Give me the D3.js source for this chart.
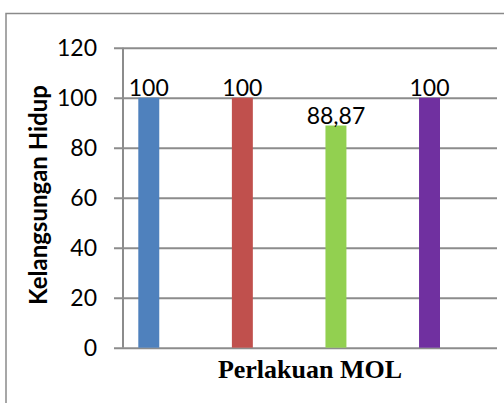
<!DOCTYPE html>
<html>
<head>
<meta charset="utf-8">
<script src="https://cdn.jsdelivr.net/npm/d3@7/dist/d3.min.js"></script>
<style>
  html, body { margin: 0; padding: 0; background: #fff; }
  svg { display: block; }
</style>
</head>
<body>
<script>
// Survival rate per MOL treatment
const series = ["P1", "P2", "P3", "P4"];
const values = [100, 100, 88.87, 100];
const valueLabels = ["100", "100", "88,87", "100"];
const colors = ["#4F81BD", "#C0504D", "#92D050", "#7030A0"];
const yTicks = [0, 20, 40, 60, 80, 100, 120];
const yTitle = "Kelangsungan Hidup";
const xTitle = "Perlakuan MOL";

const W = 504, H = 403;
const svg = d3.select("body").append("svg").attr("width", W).attr("height", H);

// chart frame (top and left edges)
svg.append("path")
  .attr("d", `M6,${H} V13.5 H${W}`)
  .attr("fill", "none").attr("stroke", "#8a8a8a").attr("stroke-width", 1.5);

const plot = { left: 123, right: 497, top: 47.7, bottom: 347.7 };

const y = d3.scaleLinear().domain([0, 120]).range([plot.bottom, plot.top]);
const x = d3.scaleBand().domain(series).range([138.3, 440]).paddingInner(0.776).paddingOuter(0);

// gridlines with tick marks
const yAxis = d3.axisLeft(y).tickValues(yTicks).tickSize(-(plot.right - 114)).tickPadding(17).tickFormat(d3.format("d"));
const ga = svg.append("g").attr("transform", `translate(114,0)`).call(yAxis);
ga.select(".domain").remove();
ga.selectAll(".tick line").attr("stroke", "#8c8c8c").attr("stroke-width", 2);
ga.selectAll(".tick text")
  .attr("font-family", "Lato, 'Open Sans', sans-serif")
  .attr("font-size", 23).attr("fill", "#000");

// vertical axis line
svg.append("line")
  .attr("x1", plot.left).attr("x2", plot.left)
  .attr("y1", y(120)).attr("y2", y(0))
  .attr("stroke", "#8c8c8c").attr("stroke-width", 2);

// bars
svg.selectAll("rect.bar").data(values).join("rect")
  .attr("class", "bar")
  .attr("x", (d, i) => x(series[i]))
  .attr("width", x.bandwidth())
  .attr("y", d => y(d))
  .attr("height", d => y(0) - y(d))
  .attr("fill", (d, i) => colors[i]);

// value labels
svg.selectAll("text.val").data(values).join("text")
  .attr("class", "val")
  .attr("x", (d, i) => x(series[i]) + x.bandwidth() / 2)
  .attr("y", d => y(d) - 2)
  .attr("text-anchor", "middle")
  .attr("font-family", "Lato, 'Open Sans', sans-serif")
  .attr("font-size", 23)
  .attr("fill", "#000")
  .text((d, i) => valueLabels[i]);

// axis titles
svg.append("text")
  .attr("x", (plot.left + plot.right) / 2)
  .attr("y", 378)
  .attr("text-anchor", "middle")
  .attr("font-family", "'Liberation Serif', 'Times New Roman', serif")
  .attr("font-weight", "bold")
  .attr("font-size", 26)
  .text(xTitle);

svg.append("text")
  .attr("transform", `translate(47,195) rotate(-90)`)
  .attr("text-anchor", "middle")
  .attr("font-family", "Lato, 'Open Sans', sans-serif")
  .attr("font-weight", "bold")
  .attr("font-size", 24)
  .text(yTitle);
</script>
</body>
</html>
